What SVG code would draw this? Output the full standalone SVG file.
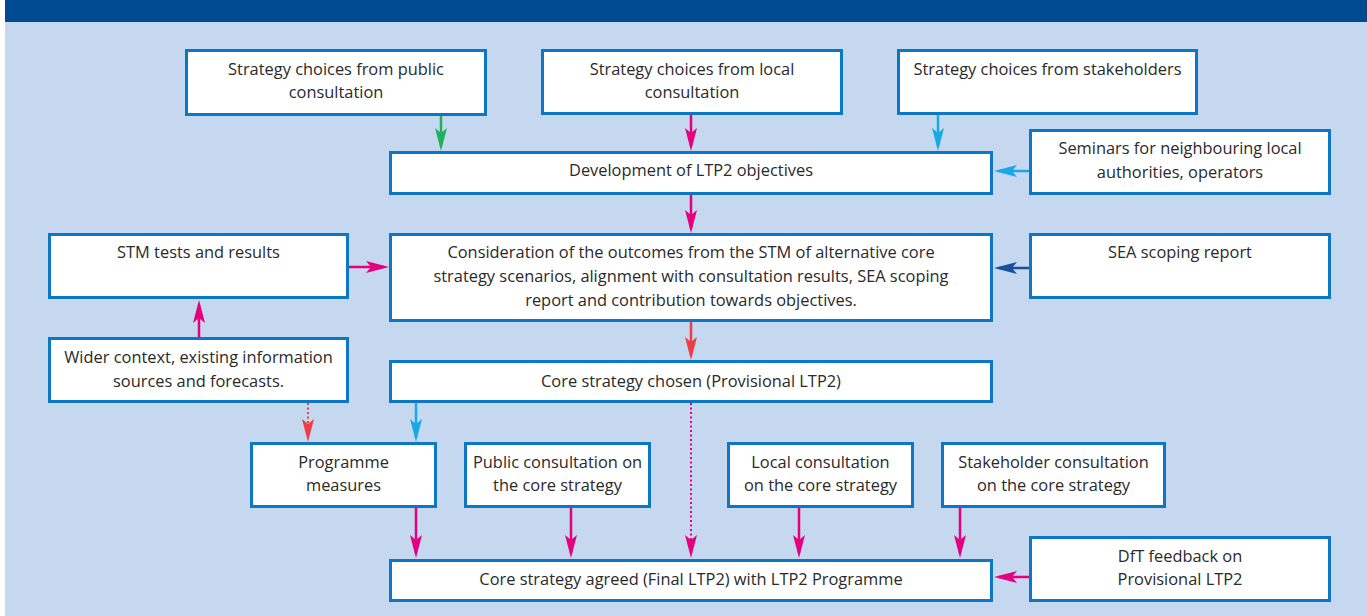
<svg xmlns="http://www.w3.org/2000/svg" width="1367" height="616" viewBox="0 0 1367 616">
  <defs>
    <style>
      .box { fill: #ffffff; stroke: #0b77c5; stroke-width: 3; }
      .lbl { font-family: "Open Sans", "Noto Sans", "Liberation Sans", sans-serif; font-size: 16.4px; fill: #2a2a2a; text-anchor: middle; }
      .ln { fill: none; stroke-width: 2.5; }
      .dot { stroke-dasharray: 2 2.5; stroke-width: 2; }
      .green { stroke: #1fb25a; }
      .mag { stroke: #e5007d; }
      .cyan { stroke: #17a8e6; }
      .red { stroke: #ef3d47; }
      .navy { stroke: #1a4f9a; }
    </style>
    <!-- Slim notched arrowheads; line ends 5px short of the tip -->
    <marker id="ahGreen" markerUnits="userSpaceOnUse" markerWidth="24" markerHeight="14" viewBox="0 0 24 14" refX="18" refY="7" orient="auto">
      <path d="M23,7 L0,1 L5,7 L0,13 Z" fill="#1fb25a"/>
    </marker>
    <marker id="ahMag" markerUnits="userSpaceOnUse" markerWidth="24" markerHeight="14" viewBox="0 0 24 14" refX="18" refY="7" orient="auto">
      <path d="M23,7 L0,1 L5,7 L0,13 Z" fill="#e5007d"/>
    </marker>
    <marker id="ahCyan" markerUnits="userSpaceOnUse" markerWidth="24" markerHeight="14" viewBox="0 0 24 14" refX="18" refY="7" orient="auto">
      <path d="M23,7 L0,1 L5,7 L0,13 Z" fill="#17a8e6"/>
    </marker>
    <marker id="ahRed" markerUnits="userSpaceOnUse" markerWidth="24" markerHeight="14" viewBox="0 0 24 14" refX="18" refY="7" orient="auto">
      <path d="M23,7 L0,1 L5,7 L0,13 Z" fill="#ef3d47"/>
    </marker>
    <marker id="ahNavy" markerUnits="userSpaceOnUse" markerWidth="24" markerHeight="14" viewBox="0 0 24 14" refX="18" refY="7" orient="auto">
      <path d="M23,7 L0,1 L5,7 L0,13 Z" fill="#1a4f9a"/>
    </marker>
  </defs>

  <!-- page -->
  <rect x="0" y="0" width="1367" height="616" fill="#ffffff"/>
  <rect x="5" y="0" width="1362" height="22" fill="#004a91"/>
  <rect x="5" y="22" width="1362" height="594" fill="#c5d8ef"/>

  <!-- connectors -->
  <g id="connectors">
    <line class="ln green" x1="441" y1="116" x2="441" y2="146" marker-end="url(#ahGreen)"/>
    <line class="ln mag" x1="691" y1="115" x2="691" y2="146" marker-end="url(#ahMag)"/>
    <line class="ln cyan" x1="938" y1="115" x2="938" y2="146" marker-end="url(#ahCyan)"/>
    <line class="ln cyan" x1="1029" y1="171" x2="999" y2="171" marker-end="url(#ahCyan)"/>
    <line class="ln mag" x1="691" y1="195" x2="691" y2="228" marker-end="url(#ahMag)"/>
    <line class="ln mag" x1="349" y1="267" x2="384" y2="267" marker-end="url(#ahMag)"/>
    <line class="ln navy" x1="1029" y1="268" x2="999" y2="268" marker-end="url(#ahNavy)"/>
    <line class="ln mag" x1="199" y1="337" x2="199" y2="305" marker-end="url(#ahMag)"/>
    <line class="ln red" x1="691" y1="322" x2="691" y2="355" marker-end="url(#ahRed)"/>
    <line class="ln red dot" x1="308" y1="403" x2="308" y2="437" marker-end="url(#ahRed)"/>
    <line class="ln cyan" x1="416" y1="403" x2="416" y2="437" marker-end="url(#ahCyan)"/>
    <line class="ln mag dot" x1="691" y1="403" x2="691" y2="553" marker-end="url(#ahMag)"/>
    <line class="ln mag" x1="416" y1="508" x2="416" y2="553" marker-end="url(#ahMag)"/>
    <line class="ln mag" x1="571" y1="508" x2="571" y2="553" marker-end="url(#ahMag)"/>
    <line class="ln mag" x1="799" y1="508" x2="799" y2="553" marker-end="url(#ahMag)"/>
    <line class="ln mag" x1="960" y1="508" x2="960" y2="553" marker-end="url(#ahMag)"/>
    <line class="ln mag" x1="1029" y1="577" x2="999" y2="577" marker-end="url(#ahMag)"/>
  </g>

  <!-- nodes -->
  <g id="public-choices">
    <rect class="box" x="186.5" y="50.5" width="299" height="64"/>
    <text class="lbl" x="336" y="75">Strategy choices from public</text>
    <text class="lbl" x="336" y="98">consultation</text>
  </g>
  <g id="local-choices">
    <rect class="box" x="542.5" y="50.5" width="299" height="63"/>
    <text class="lbl" x="692" y="75">Strategy choices from local</text>
    <text class="lbl" x="692" y="98">consultation</text>
  </g>
  <g id="stakeholder-choices">
    <rect class="box" x="898.5" y="50.5" width="298" height="63"/>
    <text class="lbl" x="1047.5" y="75">Strategy choices from stakeholders</text>
  </g>
  <g id="objectives">
    <rect class="box" x="390.5" y="152.5" width="601" height="41"/>
    <text class="lbl" x="691" y="176">Development of LTP2 objectives</text>
  </g>
  <g id="seminars">
    <rect class="box" x="1030.5" y="130.5" width="299" height="63"/>
    <text class="lbl" x="1180" y="154">Seminars for neighbouring local</text>
    <text class="lbl" x="1180" y="177.5">authorities, operators</text>
  </g>
  <g id="stm-tests">
    <rect class="box" x="49.5" y="234.5" width="298" height="63"/>
    <text class="lbl" x="198.5" y="258">STM tests and results</text>
  </g>
  <g id="consideration">
    <rect class="box" x="390.5" y="234.5" width="601" height="86"/>
    <text class="lbl" x="691" y="258">Consideration of the outcomes from the STM of alternative core</text>
    <text class="lbl" x="691" y="282">strategy scenarios, alignment with consultation results, SEA scoping</text>
    <text class="lbl" x="691" y="306">report and contribution towards objectives.</text>
  </g>
  <g id="sea-scoping">
    <rect class="box" x="1030.5" y="234.5" width="299" height="63"/>
    <text class="lbl" x="1180" y="258">SEA scoping report</text>
  </g>
  <g id="wider-context">
    <rect class="box" x="49.5" y="338.5" width="298" height="63"/>
    <text class="lbl" x="198.5" y="363">Wider context, existing information</text>
    <text class="lbl" x="198.5" y="386.5">sources and forecasts.</text>
  </g>
  <g id="core-chosen">
    <rect class="box" x="390.5" y="361.5" width="601" height="40"/>
    <text class="lbl" x="691" y="387">Core strategy chosen (Provisional LTP2)</text>
  </g>
  <g id="programme-measures">
    <rect class="box" x="251.5" y="443.5" width="184" height="63"/>
    <text class="lbl" x="343.5" y="467.5">Programme</text>
    <text class="lbl" x="343.5" y="491">measures</text>
  </g>
  <g id="public-consultation">
    <rect class="box" x="465.5" y="443.5" width="184" height="63"/>
    <text class="lbl" x="557.5" y="467.5">Public consultation on</text>
    <text class="lbl" x="557.5" y="491">the core strategy</text>
  </g>
  <g id="local-consultation">
    <rect class="box" x="728.5" y="443.5" width="184" height="63"/>
    <text class="lbl" x="820.5" y="467.5">Local consultation</text>
    <text class="lbl" x="820.5" y="491">on the core strategy</text>
  </g>
  <g id="stakeholder-consultation">
    <rect class="box" x="942.5" y="443.5" width="222" height="63"/>
    <text class="lbl" x="1053.5" y="467.5">Stakeholder consultation</text>
    <text class="lbl" x="1053.5" y="491">on the core strategy</text>
  </g>
  <g id="core-agreed">
    <rect class="box" x="390.5" y="560.5" width="601" height="40"/>
    <text class="lbl" x="691" y="584.5">Core strategy agreed (Final LTP2) with LTP2 Programme</text>
  </g>
  <g id="dft-feedback">
    <rect class="box" x="1030.5" y="537.5" width="299" height="63"/>
    <text class="lbl" x="1180" y="561.5">DfT feedback on</text>
    <text class="lbl" x="1180" y="584.5">Provisional LTP2</text>
  </g>
</svg>
